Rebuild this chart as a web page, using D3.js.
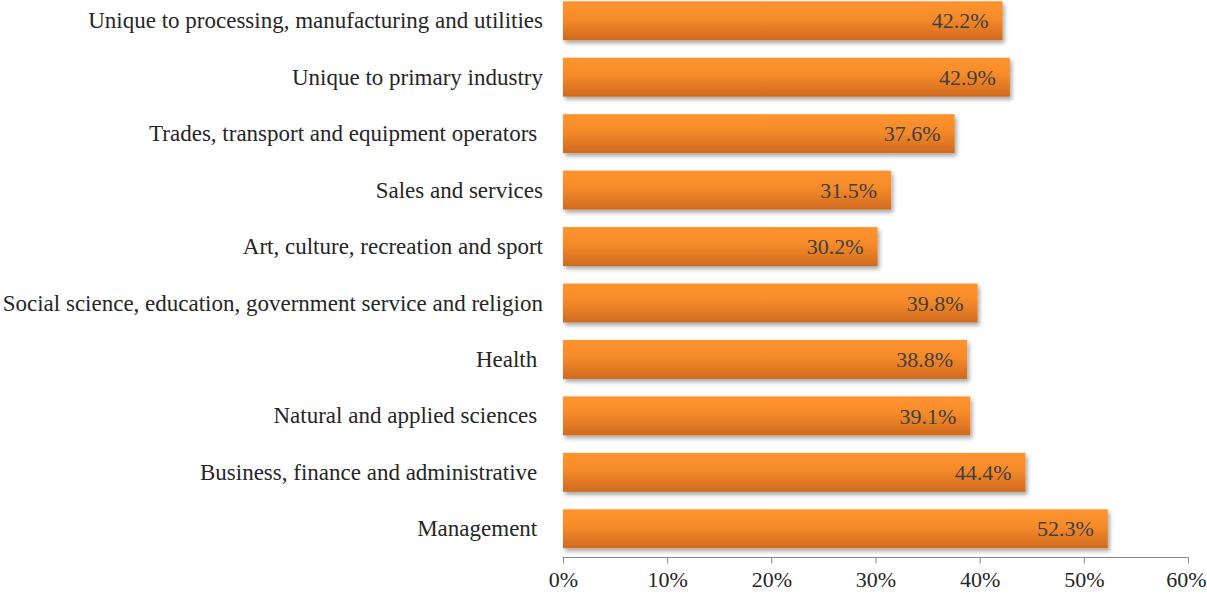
<!DOCTYPE html>
<html><head><meta charset="utf-8">
<script src="https://cdn.jsdelivr.net/npm/d3@7"></script>
<style>
html,body{margin:0;padding:0;background:#fff;}
svg{display:block;}
text{font-family:"Liberation Serif","Times New Roman",serif;white-space:pre;}
</style></head>
<body>
<svg id="chart" width="1207" height="596"></svg>
<script>
const categories = [
  "Unique to processing, manufacturing and utilities",
  "Unique to primary industry",
  "Trades, transport and equipment operators ",
  "Sales and services",
  "Art, culture, recreation and sport",
  "Social science, education, government service and religion",
  "Health ",
  "Natural and applied sciences ",
  "Business, finance and administrative ",
  "Management "
];
const values = [42.2, 42.9, 37.6, 31.5, 30.2, 39.8, 38.8, 39.1, 44.4, 52.3];
const tickValues = [0, 10, 20, 30, 40, 50, 60];

const svg = d3.select("#chart");
const x = d3.scaleLinear().domain([0, 60]).range([563, 1188]);
const y = d3.scaleBand().domain(categories).range([-7.5, 557]).paddingInner(0.31).paddingOuter(0.155);

const defs = svg.append("defs");
const grad = defs.append("linearGradient").attr("id","barGrad").attr("x1",0).attr("y1",0).attr("x2",0).attr("y2",1);
grad.append("stop").attr("offset","0%").attr("stop-color","#FF942F");
grad.append("stop").attr("offset","45%").attr("stop-color","#F58A2A");
grad.append("stop").attr("offset","100%").attr("stop-color","#D06A1E");
const f = defs.append("filter").attr("id","shadow").attr("x","-5%").attr("y","-20%").attr("width","115%").attr("height","150%");
f.append("feGaussianBlur").attr("in","SourceAlpha").attr("stdDeviation",2);
f.append("feOffset").attr("dx",2).attr("dy",3).attr("result","ob");
f.append("feComponentTransfer").append("feFuncA").attr("type","linear").attr("slope",0.35);
const m = f.append("feMerge");
m.append("feMergeNode");
m.append("feMergeNode").attr("in","SourceGraphic");

// bars
svg.append("g").selectAll("rect").data(values).join("rect")
  .attr("x", x(0))
  .attr("y", (d,i) => y(categories[i]))
  .attr("width", d => x(d) - x(0))
  .attr("height", y.bandwidth())
  .attr("fill", "url(#barGrad)")
  .attr("filter", "url(#shadow)");

// value labels
svg.append("g").selectAll("text").data(values).join("text")
  .attr("x", d => x(d) - 14)
  .attr("y", (d,i) => y(categories[i]) + y.bandwidth()/2)
  .attr("dy", "0.35em")
  .attr("text-anchor", "end")
  .attr("font-size", 22)
  .attr("fill", "#404040")
  .text(d => d.toFixed(1) + "%");

// category labels
svg.append("g").selectAll("text").data(categories).join("text")
  .attr("x", 543)
  .attr("y", d => y(d) + y.bandwidth()/2)
  .attr("dy", "0.33em")
  .attr("text-anchor", "end")
  .attr("font-size", 23)
  .attr("fill", "#262626")
  .text(d => d);

// x axis
const ax = svg.append("g").attr("transform", "translate(0,557.5)")
  .call(d3.axisBottom(x).tickValues(tickValues).tickSize(6).tickPadding(8).tickFormat(d => d + "%"));
ax.select(".domain").attr("stroke", "#868686").attr("stroke-width", 1);
ax.selectAll(".tick line").attr("stroke", "#868686");
ax.selectAll(".tick text").attr("font-size", 22).attr("fill", "#262626")
  .attr("font-family", "'Liberation Serif','Times New Roman',serif")
  .attr("dx", d => d === 60 ? -2 : 0);
ax.select(".domain").attr("d", "M563,0.5V0H1188V0.5");
</script>
</body></html>
